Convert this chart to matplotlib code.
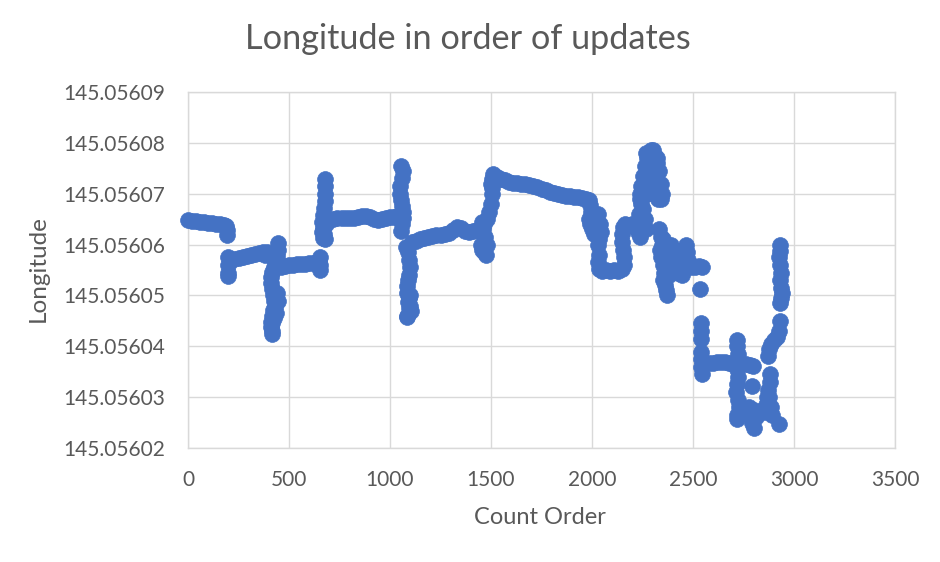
import matplotlib
matplotlib.use("Agg")
import matplotlib.pyplot as plt
import numpy as np

# Longitude values stored in units of 1e-7 degrees above 145.056
seg_a_x = [0, 20, 40, 60, 80, 100, 120, 140, 160, 180, 190, 195, 195]
seg_a_y = [649, 647, 646, 645, 644, 643, 642, 641, 640, 639, 637, 628, 618]

seg_b_x = [200, 200, 200, 200, 210, 230, 250, 270, 290, 310, 330, 350, 370]
seg_b_y = [575, 560, 545, 538, 570, 572, 574, 576, 578, 580, 582, 584, 585]

seg_b2_x = [445, 448, 440, 432, 425, 418, 412, 410, 415, 420, 425, 430, 435, 425, 415, 410, 412, 418, 422, 418, 415, 390, 380, 440, 445]
seg_b2_y = [604, 590, 578, 566, 556, 546, 536, 524, 512, 500, 490, 478, 466, 455, 445, 437, 448, 460, 472, 430, 425, 586, 580, 505, 490]

seg_c_x = [460, 480, 500, 520, 540, 560, 580, 600, 620, 640, 650, 655, 655, 655]
seg_c_y = [556, 558, 559, 560, 561, 562, 562, 563, 564, 565, 567, 575, 560, 550]

seg_d_x = [680, 680, 678, 676, 672, 668, 665, 670, 675, 680, 685, 672, 662, 668]
seg_d_y = [728, 715, 700, 686, 672, 658, 645, 632, 620, 610, 640, 655, 625, 612]

seg_d2_x = [700, 720, 740, 760, 780, 800, 820, 840, 860, 880, 900, 920, 940, 960, 980, 1000, 1020, 1035]
seg_d2_y = [648, 650, 652, 653, 653, 652, 653, 654, 656, 657, 654, 650, 648, 650, 652, 654, 655, 657]

seg_v1_x = [1055, 1065, 1060, 1050, 1048, 1052, 1058, 1062, 1066, 1060, 1055]
seg_v1_y = [755, 745, 730, 715, 700, 688, 676, 664, 652, 640, 626]

seg_v2_x = [1080, 1090, 1095, 1100, 1095, 1088, 1082, 1085, 1092, 1098, 1105, 1100, 1090, 1085, 1095, 1085]
seg_v2_y = [595, 585, 570, 555, 540, 530, 518, 505, 495, 480, 470, 500, 488, 460, 475, 458]

seg_e_x = [1110, 1130, 1150, 1170, 1190, 1210, 1230, 1250, 1270, 1290, 1310, 1330, 1350, 1370, 1390, 1410, 1430, 1450]
seg_e_y = [605, 608, 611, 613, 615, 617, 618, 619, 620, 623, 628, 635, 633, 626, 625, 627, 628, 630]

seg_e2_x = [1450, 1455, 1465, 1475, 1480, 1470, 1460, 1455, 1465, 1480, 1490, 1500, 1505, 1500]
seg_e2_y = [600, 590, 585, 580, 600, 615, 630, 645, 640, 650, 665, 680, 700, 720]

seg_f_x = [1505, 1505, 1510, 1530, 1550, 1570, 1590, 1610, 1630, 1650, 1670, 1690, 1710, 1730,
           1750, 1770, 1790, 1810, 1830, 1850, 1870, 1890, 1910, 1930, 1950, 1970, 1985]
seg_f_y = [712, 728, 738, 733, 729, 726, 724, 722, 721, 720, 719, 718, 716, 713,
           710, 707, 704, 701, 699, 697, 696, 695, 694, 693, 692, 690, 688]

seg_f2_x = [1990, 1995, 1985, 1990, 2000, 2010, 2030, 2040, 2045, 2035, 2030]
seg_f2_y = [678, 665, 650, 640, 630, 620, 660, 640, 625, 610, 600]

seg_f3_x = [2035, 2030, 2035, 2050, 2070, 2090, 2110, 2130, 2150, 2160, 2160, 2155, 2150, 2148, 2155, 2165, 2185, 2200]
seg_f3_y = [580, 565, 552, 548, 550, 549, 550, 548, 552, 560, 575, 590, 605, 620, 635, 640, 638, 640]

seg_g_x = [2220, 2230, 2240, 2235, 2245, 2250, 2260, 2270, 2280, 2290, 2300, 2310, 2320, 2330, 2340,
           2335, 2325, 2310, 2300, 2290, 2280, 2270, 2260, 2250, 2245, 2240, 2250, 2260, 2270, 2280,
           2300, 2320, 2330, 2340, 2345, 2265, 2275, 2295, 2305, 2315, 2255, 2285, 2320, 2240, 2265]
seg_g_y = [640, 625, 615, 660, 680, 700, 720, 740, 770, 785, 785, 775, 760, 745, 720,
           700, 690, 700, 720, 745, 760, 770, 755, 735, 715, 690, 670, 650, 700, 730,
           750, 770, 720, 690, 700, 780, 750, 765, 740, 725, 710, 715, 740, 700, 630]

seg_g2_x = [2330, 2340, 2345, 2335, 2340, 2350, 2355, 2350, 2360, 2365, 2370, 2375, 2380, 2365, 2350, 2360]
seg_g2_y = [630, 615, 600, 590, 575, 560, 545, 530, 520, 510, 500, 560, 540, 580, 610, 595]

seg_h_x = [2390, 2400, 2410, 2420, 2430, 2440, 2445, 2450, 2455, 2460, 2465, 2470, 2475, 2480, 2490, 2510, 2530, 2545, 2535, 2405, 2425]
seg_h_y = [600, 590, 580, 570, 560, 550, 540, 560, 575, 590, 600, 585, 570, 560, 555, 556, 557, 555, 512, 555, 545]

seg_i_x = [2540, 2540, 2540, 2540, 2540, 2540, 2545, 2560, 2580, 2600, 2620, 2640, 2660, 2680, 2700, 2720, 2740, 2760, 2780, 2795]
seg_i_y = [445, 430, 415, 388, 375, 360, 345, 368, 368, 368, 369, 370, 370, 368, 366, 366, 366, 365, 364, 362]

seg_j_x = [2720, 2718, 2722, 2716, 2720, 2724, 2718, 2715, 2722, 2726, 2718, 2720]
seg_j_y = [413, 400, 385, 370, 355, 340, 325, 310, 295, 280, 265, 258]

seg_k_x = [2790, 2775, 2785, 2790, 2800, 2810, 2820, 2800]
seg_k_y = [321, 280, 265, 250, 240, 260, 270, 275]

seg_l_x = [2850, 2860, 2865, 2870, 2880, 2880, 2875, 2885, 2890]
seg_l_y = [270, 285, 300, 315, 330, 345, 300, 280, 265]

seg_m_x = [2870, 2875, 2885, 2900, 2915, 2925, 2930]
seg_m_y = [380, 395, 405, 412, 418, 430, 449]

seg_n_x = [2930, 2930, 2925, 2932, 2935, 2930, 2935, 2940, 2935, 2930, 2925]
seg_n_y = [600, 588, 575, 560, 545, 530, 515, 505, 495, 485, 247]

segments_x = [seg_a_x, seg_b_x, seg_b2_x, seg_c_x, seg_d_x, seg_d2_x, seg_v1_x, seg_v2_x, seg_e_x,
              seg_e2_x, seg_f_x, seg_f2_x, seg_f3_x, seg_g_x, seg_g2_x, seg_h_x, seg_i_x, seg_j_x,
              seg_k_x, seg_l_x, seg_m_x, seg_n_x]
segments_y = [seg_a_y, seg_b_y, seg_b2_y, seg_c_y, seg_d_y, seg_d2_y, seg_v1_y, seg_v2_y, seg_e_y,
              seg_e2_y, seg_f_y, seg_f2_y, seg_f3_y, seg_g_y, seg_g2_y, seg_h_y, seg_i_y, seg_j_y,
              seg_k_y, seg_l_y, seg_m_y, seg_n_y]

x_ticks = [0, 500, 1000, 1500, 2000, 2500, 3000, 3500]
y_ticks = [145.05602, 145.05603, 145.05604, 145.05605, 145.05606, 145.05607, 145.05608, 145.05609]
y_tick_labels = ["145.05602", "145.05603", "145.05604", "145.05605",
                 "145.05606", "145.05607", "145.05608", "145.05609"]

xs = np.concatenate([np.array(v, float) for v in segments_x])
ys = 145.056 + np.concatenate([np.array(v, float) for v in segments_y]) * 1e-7

plt.rcParams['font.family'] = ['Lato', 'DejaVu Sans']
txt = '#595959'
grid = '#D9D9D9'

fig = plt.figure(figsize=(9.4, 5.62), dpi=100)
ax = fig.add_axes([188/940, 1-448/562, (895-188)/940, (448-92)/562])
ax.scatter(xs, ys, s=130, color='#4472C4', edgecolors='#4472C4', linewidths=0.5, zorder=3, clip_on=False)
ax.set_xlim(0, 3500)
ax.set_ylim(145.05602, 145.05609)
ax.set_xticks(x_ticks)
ax.set_xticklabels([str(t) for t in x_ticks])
ax.set_yticks(y_ticks)
ax.set_yticklabels(y_tick_labels)
ax.grid(True, color=grid, linewidth=1.0, zorder=0)
ax.set_axisbelow(True)
for s in ax.spines.values():
    s.set_color(grid)
    s.set_linewidth(1.0)
ax.tick_params(axis='both', length=0, labelsize=15, labelcolor=txt)
ax.tick_params(axis='y', pad=16.5)
ax.tick_params(axis='x', pad=16)

fig.text(468/940, 1-39/562, 'Longitude in order of updates', ha='center', va='center',
         fontsize=24.7, color=txt)
fig.text(540/940, 1-518/562, 'Count Order', ha='center', va='center', fontsize=17, color=txt)
fig.text(38/940, 1-269/562, 'Longitude', ha='center', va='center', rotation=90, fontsize=17.5, color=txt)

fig.savefig('out.png', dpi=100)
